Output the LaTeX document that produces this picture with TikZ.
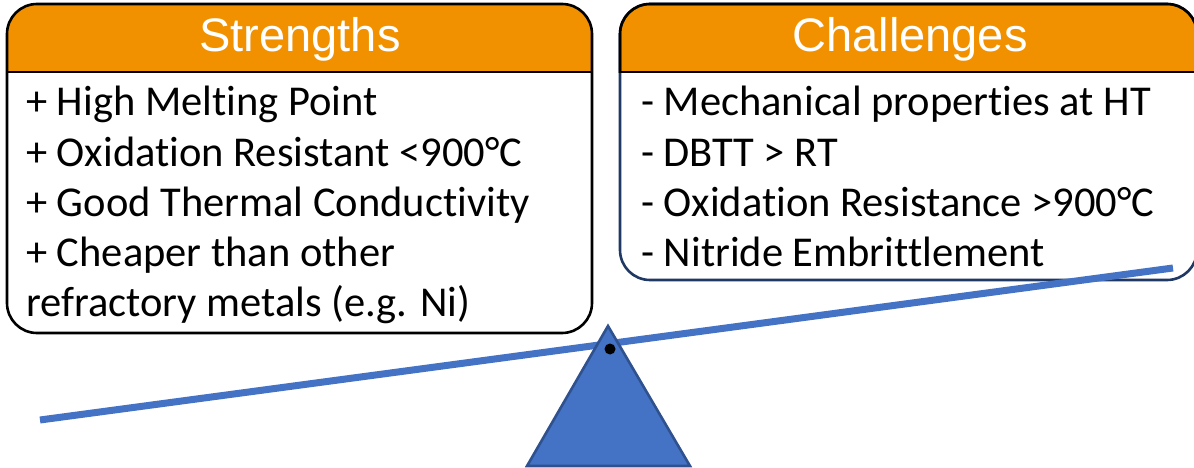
\documentclass[tikz,border=0pt]{standalone}
\usepackage{fontspec}
\setmainfont[Ligatures={NoCommon,NoRare}]{Carlito}
\newfontfamily\hdrfont{Liberation Sans}
\definecolor{hdrorange}{HTML}{F29100}
\definecolor{leverblue}{HTML}{4472C4}
\definecolor{navy}{HTML}{203864}
\definecolor{tribord}{HTML}{2F528F}
\begin{document}
\begin{tikzpicture}[x=1pt,y=-1pt,
  boxline/.style={line width=2.6pt},
  hdr/.style={anchor=base, inner sep=0pt, text=white, font=\hdrfont\fontsize{47}{56}\selectfont},
  item/.style={anchor=base west, inner sep=0pt, font=\fontsize{42.5}{50}\selectfont}]
\useasboundingbox (0,0) rectangle (1194,468);
\begin{scope}
\clip (0,0) rectangle (1194,468);
% left box
\fill[white, rounded corners=30pt] (7,4) rectangle (592,333);
\begin{scope}
\clip (0,0) rectangle (1194,72);
\fill[hdrorange, rounded corners=30pt] (7,4) rectangle (592,333);
\end{scope}
\draw[boxline, black, rounded corners=30pt] (7,4) rectangle (592,333);
\draw[boxline, black] (7,72) -- (592,72);
% right box
\fill[white, rounded corners=30pt] (620,4) rectangle (1197,280);
\begin{scope}
\clip (0,0) rectangle (1194,72);
\fill[hdrorange, rounded corners=30pt] (620,4) rectangle (1197,280);
\end{scope}
\draw[boxline, navy, rounded corners=30pt] (620,4) rectangle (1197,280);
\begin{scope}
\clip (0,0) rectangle (1194,72.5);
\draw[boxline, black, rounded corners=30pt] (620,4) rectangle (1197,280);
\end{scope}
\draw[boxline, black] (620,72) -- (1197,72);
% headers
\node[hdr] (hs) at (300,52) {Strengths};
\node[hdr] (hc) at (910,52) {Challenges};
% items
\node[item] (s1) at (26,116) {+ High Melting Point};
\node[item] (s2) at (26,166) {+ Oxidation Resistant <900°C};
\node[item] (s3) at (26,216) {+ Good Thermal Conductivity};
\node[item] (s4) at (26,266) {+ Cheaper than other};
\node[item] (s5) at (26,316) {refractory metals (e.g. Ni)};
\node[item] (c1) at (641,116) {- Mechanical properties at HT};
\node[item] (c2) at (641,166) {- DBTT > RT};
\node[item] (c3) at (641,216) {- Oxidation Resistance >900°C};
\node[item] (c4) at (641,266) {- Nitride Embrittlement};
% lever
\coordinate (lL) at (40,420);
\coordinate (lR) at (1173,268);
\draw[leverblue, line width=7pt] (lL) -- (lR);
% fulcrum
\coordinate (tA) at (608,326);
\coordinate (tB) at (527,466);
\coordinate (tC) at (690,466);
\filldraw[fill=leverblue, draw=tribord, line width=2.6pt, line join=miter] (tA) -- (tB) -- (tC) -- cycle;
\fill[black] (610,349) circle (5.5pt);
\end{scope}
\end{tikzpicture}
\end{document}
